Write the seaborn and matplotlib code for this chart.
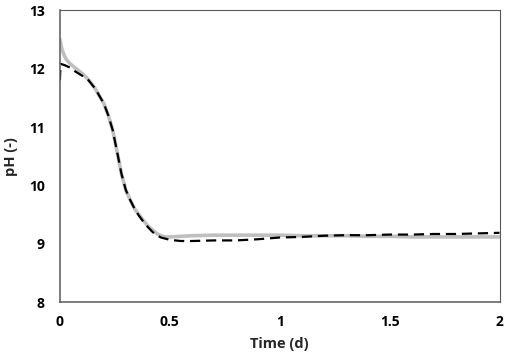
import matplotlib
matplotlib.use("Agg")
import matplotlib.pyplot as plt
import seaborn as sns
import pandas as pd

# Measured pH (grey solid)
grey_x = [0, 0.005, 0.01, 0.02, 0.03, 0.05, 0.07, 0.1, 0.13, 0.16, 0.18, 0.2, 0.22, 0.24,
          0.26, 0.28, 0.3, 0.32, 0.34, 0.36, 0.38, 0.4, 0.42, 0.44, 0.46, 0.48, 0.5, 0.55,
          0.6, 0.7, 0.8, 0.9, 1.0, 1.1, 1.2, 1.3, 1.4, 1.5, 1.6, 1.7, 1.8, 1.9, 2.0]
grey_y = [12.5, 12.4, 12.32, 12.22, 12.15, 12.07, 12.01, 11.92, 11.81, 11.66, 11.53, 11.4,
          11.2, 10.95, 10.58, 10.2, 9.92, 9.75, 9.6, 9.5, 9.4, 9.31, 9.24, 9.18, 9.14, 9.12,
          9.12, 9.13, 9.14, 9.15, 9.15, 9.15, 9.15, 9.14, 9.14, 9.14, 9.13, 9.13, 9.12, 9.12,
          9.12, 9.12, 9.12]

# Model pH (black dashed)
dash_x = [0, 0.003, 0.02, 0.05, 0.07, 0.1, 0.13, 0.16, 0.18, 0.2, 0.22, 0.24, 0.26, 0.28,
          0.3, 0.32, 0.34, 0.36, 0.38, 0.4, 0.42, 0.44, 0.46, 0.48, 0.5, 0.55, 0.6, 0.7,
          0.8, 0.9, 1.0, 1.1, 1.2, 1.3, 1.4, 1.5, 1.6, 1.7, 1.8, 1.9, 2.0]
dash_y = [11.8, 12.08, 12.06, 12.01, 11.95, 11.88, 11.8, 11.66, 11.53, 11.4, 11.2, 10.95,
          10.58, 10.2, 9.92, 9.75, 9.6, 9.48, 9.38, 9.29, 9.21, 9.15, 9.11, 9.09, 9.07, 9.05,
          9.05, 9.06, 9.06, 9.08, 9.11, 9.12, 9.14, 9.15, 9.15, 9.16, 9.16, 9.17, 9.17, 9.18,
          9.19]

x_ticks = [0, 0.5, 1, 1.5, 2]
x_tick_labels = ["0", "0.5", "1", "1.5", "2"]
y_ticks = [8, 9, 10, 11, 12, 13]

sns.set_style("white")
plt.rcParams['font.family'] = ['Open Sans', 'DejaVu Sans']

fig = plt.figure(figsize=(5.12, 3.6), dpi=100)
ax = fig.add_axes([0.117, 0.16, 0.8586, 0.812])

df_g = pd.DataFrame({"t": grey_x, "pH": grey_y})
df_d = pd.DataFrame({"t": dash_x, "pH": dash_y})
sns.lineplot(data=df_g, x="t", y="pH", ax=ax, color="#BFBFBF", linewidth=2.6, estimator=None, sort=False)
sns.lineplot(data=df_d, x="t", y="pH", ax=ax, color="black", linewidth=1.6, estimator=None,
             sort=False, dashes=False)
ax.lines[-1].set_dashes([4.6, 2.6])

ax.set_xlim(0, 2)
ax.set_ylim(8, 13)
ax.set_xticks(x_ticks)
ax.set_xticklabels(x_tick_labels)
ax.set_yticks(y_ticks)

for s in ["left", "bottom"]:
    ax.spines[s].set_color("#595959")
    ax.spines[s].set_linewidth(1.1)
for s in ["top", "right"]:
    ax.spines[s].set_color("#595959")
    ax.spines[s].set_linewidth(0.8)

ax.tick_params(axis="both", which="major", direction="out", length=4, width=1.0,
               color="#595959", labelsize=10, labelcolor="black")
ax.tick_params(axis="y", pad=7)
ax.tick_params(axis="x", pad=5)
for lab in ax.get_xticklabels() + ax.get_yticklabels():
    lab.set_fontweight("bold")

ax.set_xlabel("Time (d)", fontsize=10.5, fontweight="bold", labelpad=6)
ax.set_ylabel("pH (-)", fontsize=10.5, fontweight="bold")
ax.yaxis.set_label_coords(-0.095, 0.5)

fig.savefig("out.png", dpi=100)
